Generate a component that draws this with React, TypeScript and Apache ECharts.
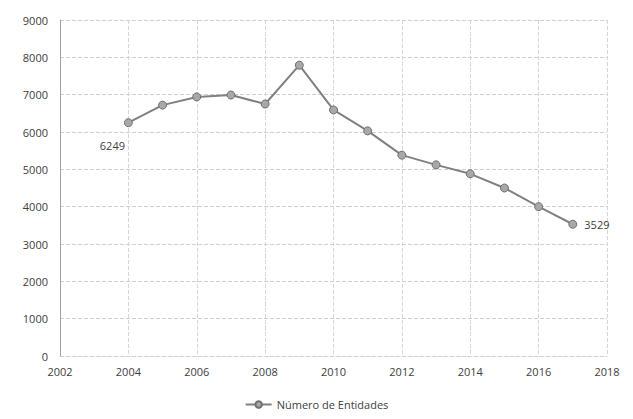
import React, { useEffect, useRef } from "react";
import * as echarts from "echarts";

const years = [2004, 2005, 2006, 2007, 2008, 2009, 2010, 2011, 2012, 2013, 2014, 2015, 2016, 2017];
const entidades = [6249, 6720, 6940, 6990, 6750, 7790, 6590, 6030, 5380, 5120, 4880, 4500, 4000, 3529];
const seriesName = "Número de Entidades";
const labeledYears = [2004, 2017];

export default function App() {
  const ref = useRef<HTMLDivElement>(null);
  useEffect(() => {
    if (!ref.current) return;
    const chart = echarts.init(ref.current, null, { renderer: "svg" });
    const font = "'Open Sans', 'Noto Sans', sans-serif";
    const data = years.map((y, i) => {
      const item: any = { value: [y, entidades[i]] };
      if (labeledYears.includes(y)) {
        item.label = {
          show: true,
          formatter: String(entidades[i]),
          position: i === 0 ? "bottom" : "right",
          offset: i === 0 ? [-16, 8] : [2, 0],
          color: "#404040",
          fontSize: 11,
          fontFamily: font,
        };
      }
      return item;
    });
    chart.setOption({
      animation: false,
      backgroundColor: "#ffffff",
      grid: { left: 60, right: 26, top: 20, bottom: 63 },
      legend: {
        bottom: 4,
        left: "center",
        itemWidth: 26,
        itemHeight: 8,
        textStyle: { color: "#404040", fontSize: 11, fontFamily: font },
        data: [seriesName],
      },
      xAxis: {
        type: "value",
        min: 2002,
        max: 2018,
        interval: 2,
        axisLine: { show: true, lineStyle: { color: "#d0d0d0", type: "dashed" } },
        axisTick: { show: false },
        splitLine: { show: true, lineStyle: { color: "#d6d6d6", type: "dashed" } },
        axisLabel: { color: "#404040", fontSize: 11, fontFamily: font, margin: 10, formatter: (v: number) => String(v) },
      },
      yAxis: {
        type: "value",
        min: 0,
        max: 9000,
        interval: 1000,
        axisLine: { show: true, lineStyle: { color: "#a0a0a0" } },
        axisTick: { show: false },
        splitLine: { show: true, lineStyle: { color: "#d0d0d0", type: "dashed" } },
        axisLabel: { color: "#404040", fontSize: 11, fontFamily: font, margin: 12, formatter: (v: number) => String(v) },
      },
      series: [
        {
          name: seriesName,
          type: "line",
          data,
          symbol: "circle",
          symbolSize: 8,
          lineStyle: { color: "#808080", width: 2 },
          itemStyle: { color: "#a8a8a8", borderColor: "#707070", borderWidth: 1 },
        },
      ],
    });
    return () => chart.dispose();
  }, []);
  return <div ref={ref} style={{ position: "fixed", left: 0, top: 0, width: 633, height: 419 }} />;
}
